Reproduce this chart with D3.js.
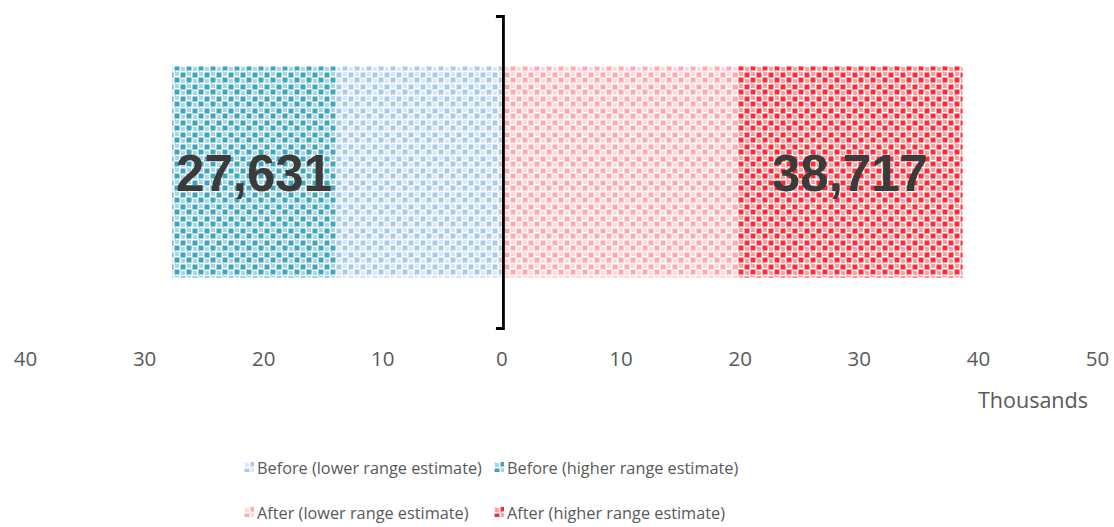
<!DOCTYPE html>
<html><head><meta charset="utf-8">
<script src="https://cdn.jsdelivr.net/npm/d3@7"></script>
<style>
body{margin:0;background:#fff;}
text{font-family:"Open Sans","Liberation Sans",sans-serif;}
</style></head>
<body><svg id="c" width="1114" height="527"></svg>
<script>
const categories = ["Deaths"];
const beforeLower = [13.9];
const beforeHigher = [27.631];
const afterLower = [19.8];
const afterHigher = [38.717];
const tickValues = [-40,-30,-20,-10,0,10,20,30,40,50];
const totalLabels = ["27,631","38,717"];
const seriesNames = ["Before (lower range estimate)","Before (higher range estimate)","After (lower range estimate)","After (higher range estimate)"];
const seriesColors = ["#a9cbeb","#3aa6c2","#ffa8ae","#ff2a33"];

const svg = d3.select("#c");
const x = d3.scaleLinear().domain([-40,50]).range([25,1097]);
const y = d3.scaleBand().domain(categories).range([16,328]).padding(0.193);
const FONT = '"Open Sans","Liberation Sans",sans-serif';

const defs = svg.append("defs");
seriesColors.forEach((c,i)=>{
  const p = defs.append("pattern").attr("id","p"+i).attr("patternUnits","userSpaceOnUse")
    .attr("width",12).attr("height",12);
  p.append("rect").attr("width",12).attr("height",12).attr("fill","#fff");
  const sq = [[0.5,0.5,5,5,1],[6.5,5.5,5,5,1],[7,0,4,4,0.45],[1,7,4,4,0.45],[0,5.8,1.5,1.5,0.3],[6,11,2,1,0.3]];
  sq.forEach(s=>p.append("rect").attr("x",s[0]).attr("y",s[1]).attr("width",s[2]).attr("height",s[3])
    .attr("fill",c).attr("opacity",s[4]));
});

const segs = [
  {x0:0, x1:-beforeLower[0], s:0},
  {x0:-beforeLower[0], x1:-beforeHigher[0], s:1},
  {x0:0, x1:afterLower[0], s:2},
  {x0:afterLower[0], x1:afterHigher[0], s:3}
];
svg.append("g").selectAll("rect").data(segs).join("rect")
  .attr("x",d=>x(Math.min(d.x0,d.x1)))
  .attr("width",d=>Math.abs(x(d.x1)-x(d.x0)))
  .attr("y",y(categories[0])).attr("height",y.bandwidth())
  .attr("fill",d=>"url(#p"+d.s+")");

const xa = svg.append("g").attr("transform","translate(0,348)")
  .call(d3.axisBottom(x).tickValues(tickValues).tickFormat(d=>Math.abs(d)).tickSize(0));
xa.select(".domain").remove();
xa.selectAll("text").attr("fill","#595959").style("font-size","20.5px").style("font-family",FONT);
svg.append("text").attr("x",1033).attr("y",408).attr("text-anchor","middle")
  .attr("fill","#595959").style("font-size","21.5px").text("Thousands");

const ya = svg.append("g").attr("transform","translate("+(x(0)+1.5)+",0)")
  .call(d3.axisLeft(y).tickValues([]).tickSizeOuter(7));
ya.select(".domain").attr("stroke","#000").attr("stroke-width",2.8);

const lab = [
  {t:totalLabels[0], c:(x(-beforeLower[0])+x(-beforeHigher[0]))/2},
  {t:totalLabels[1], c:(x(afterLower[0])+x(afterHigher[0]))/2}
];
svg.append("g").selectAll("text").data(lab).join("text")
  .attr("x",d=>d.c).attr("y",y(categories[0])+y.bandwidth()/2+19)
  .attr("text-anchor","middle").attr("fill","#3b3b3b")
  .style("font-family","'Liberation Sans',Arial,sans-serif").style("font-weight","bold")
  .style("font-size","51px").text(d=>d.t);

const lg = [
  {n:0, x:244, y:468},{n:1, x:494, y:468},{n:2, x:244, y:513},{n:3, x:494, y:513}
];
const li = svg.append("g").selectAll("g").data(lg).join("g")
  .attr("transform",d=>"translate("+d.x+","+d.y+")");
li.append("rect").attr("x",0).attr("y",-6).attr("width",10).attr("height",10)
  .attr("fill",d=>"url(#p"+d.n+")");
li.append("text").attr("x",13).attr("y",6).attr("fill","#595959").style("font-size","16.3px")
  .text(d=>seriesNames[d.n]);
</script></body></html>
